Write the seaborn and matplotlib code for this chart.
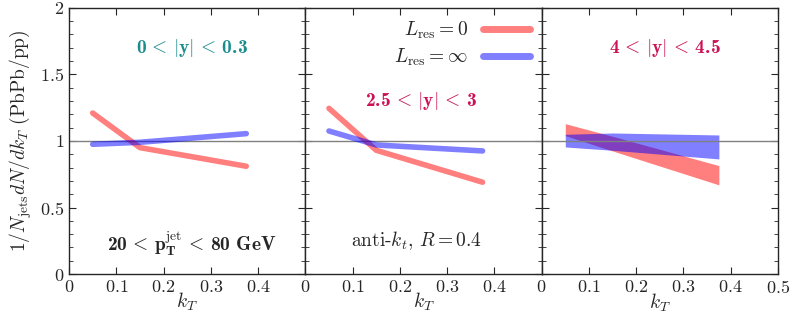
import numpy as np
import pandas as pd
import matplotlib
matplotlib.use("Agg")
import matplotlib.pyplot as plt
from matplotlib.ticker import MultipleLocator, FuncFormatter
import seaborn as sns

# --- 数据 ---
KT = [0.05, 0.15, 0.375]

# 面板 1: 0 < |y| < 0.3
p1_res0 = [1.21, 0.95, 0.81]
p1_resinf = [0.975, 0.99, 1.055]

# 面板 2: 2.5 < |y| < 3
p2_res0 = [1.245, 0.93, 0.69]
p2_resinf = [1.075, 0.97, 0.925]

# 面板 3: 4 < |y| < 4.5 (带状区域)
p3_res0_hi = [1.13, 1.035, 0.815]
p3_res0_lo = [1.04, 0.925, 0.67]
p3_resinf_hi = [1.05, 1.06, 1.045]
p3_resinf_lo = [0.955, 0.93, 0.865]

RED = (1.0, 0.0, 0.0)
BLUE = (0.0, 0.0, 1.0)
TEAL = "#1a8c8c"
CRIMSON = "#cc1155"

sns.set_style("ticks")
plt.rcParams["font.family"] = ["cmr10", "DejaVu Serif"]
plt.rcParams["mathtext.fontset"] = "cm"
plt.rcParams["axes.unicode_minus"] = False

fig, axes = plt.subplots(1, 3, figsize=(7.89, 3.15), dpi=100, sharey=True)
fig.subplots_adjust(left=0.0875, right=0.986, top=0.975, bottom=0.13, wspace=0)

fmt = FuncFormatter(lambda v, p: f"${v:g}$")


def line_df(res0, resinf):
    return pd.DataFrame({
        "kT": KT * 2,
        "val": res0 + resinf,
        "L": [r"$L_{\rm res}=0$"] * 3 + [r"$L_{\rm res}=\infty$"] * 3,
    })


for ax, (r0, ri) in zip(axes[:2], [(p1_res0, p1_resinf), (p2_res0, p2_resinf)]):
    sns.lineplot(data=line_df(r0, ri), x="kT", y="val", hue="L",
                 palette=[RED, BLUE], lw=4, alpha=0.5, ax=ax, legend=(ax is axes[1]))

# 面板 3 带状区域
axes[2].fill_between(KT, p3_res0_lo, p3_res0_hi, color=RED, alpha=0.5, lw=0)
axes[2].fill_between(KT, p3_resinf_lo, p3_resinf_hi, color=BLUE, alpha=0.5, lw=0)

for i, ax in enumerate(axes):
    ax.set_xlim(0, 0.5)
    ax.set_ylim(0, 2)
    ax.axhline(1, color="grey", lw=1, zorder=1)
    ax.xaxis.set_major_locator(MultipleLocator(0.1))
    ax.yaxis.set_major_locator(MultipleLocator(0.5))
    ax.yaxis.set_minor_locator(MultipleLocator(0.1))
    ax.tick_params(which="both", direction="in", top=True, right=True, labelsize=13)
    ax.tick_params(which="major", length=5)
    ax.tick_params(which="minor", length=3)
    ax.xaxis.set_major_formatter(fmt)
    ax.yaxis.set_major_formatter(fmt)
    ax.set_xlabel(r"$k_T$", fontsize=14, labelpad=-3)
    ax.set_ylabel("")
    for s in ax.spines.values():
        s.set_linewidth(1)
    if i < 2:
        ax.set_xticks([0, 0.1, 0.2, 0.3, 0.4])

axes[0].set_ylabel(r"$1/N_{\rm jets}dN/dk_T\ (\rm PbPb/pp)$", fontsize=14)

# 图例
leg = axes[1].legend(loc="upper right", frameon=False, markerfirst=False,
                     fontsize=14, handlelength=2.4, borderaxespad=0.2,
                     labelspacing=0.3)
for h in leg.get_lines():
    h.set_linewidth(5)
    h.set_alpha(0.5)

# 文本标注
bold = dict(family="cmb10", fontsize=14, ha="center", va="center")
axes[0].text(0.26, 1.70, r"0$\,<\,|\mathbf{y}|\,<\,$0.3", color=TEAL, **bold)
axes[1].text(0.245, 1.30, r"2.5$\,<\,|\mathbf{y}|\,<\,$3", color=CRIMSON, **bold)
axes[2].text(0.26, 1.70, r"4$\,<\,|\mathbf{y}|\,<\,$4.5", color=CRIMSON, **bold)
axes[0].text(0.26, 0.23, r"20$\,<\,\mathbf{p}_\mathbf{T}^{\rm jet}\,<\,$80 GeV", **bold)
axes[1].text(0.235, 0.255, r"anti-$k_t$, $R=0.4$", fontsize=14,
             ha="center", va="center", family="cmr10")

fig.savefig("out.png", dpi=100)
